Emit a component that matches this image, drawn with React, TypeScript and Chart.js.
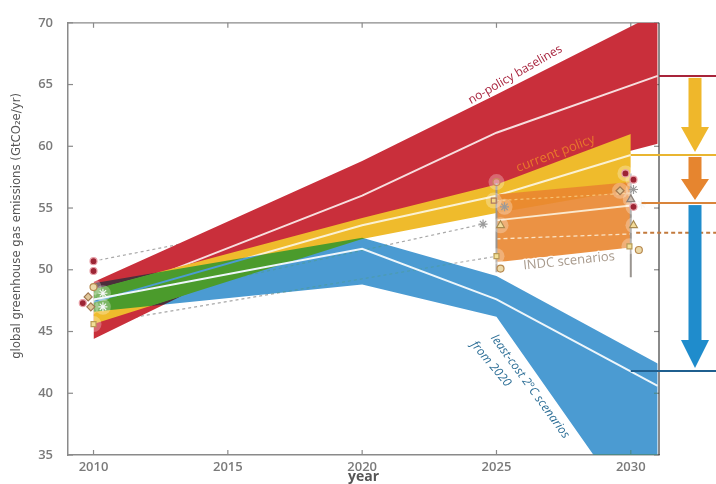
import React, { useEffect, useRef } from 'react';
import { Chart, registerables } from 'chart.js';

Chart.register(...registerables);

// ---------------- data ----------------
const xTickYears = [2010, 2015, 2020, 2025, 2030];
const yTickValues = [35, 40, 45, 50, 55, 60, 65, 70];

const baselineYears = [2010, 2020, 2025, 2031];
const baselineHigh = [49.0, 58.8, 64.2, 70.8];
const baselineMedian = [47.5, 56.0, 61.1, 65.7];
const baselineLowYears = [2010, 2013.3, 2020, 2025, 2031];
const baselineLow = [44.4, 47.9, 53.2, 56.8, 60.2];

const policyYears = [2010, 2020, 2025, 2030];
const policyHigh = [48.4, 54.2, 56.9, 61.0];
const policyMedian = [47.4, 53.6, 56.0, 59.3];
const policyLow = [45.6, 52.5, 54.6, 56.5];

const leastCostYears = [2010, 2020, 2025, 2031];
const leastCostHigh = [48.9, 52.6, 49.5, 42.4];
const leastCostMedian = [47.6, 51.7, 47.6, 40.6];
const leastCostLow = [46.6, 48.8, 46.2, 27.6];

const indcYears = [2025, 2030];
const indcHigh = [56.1, 57.1];
const indcUpperDashed = [55.6, 56.2];
const indcMedian = [54.0, 55.2];
const indcLowerDashed = [52.5, 52.9];
const indcLow = [50.6, 51.8];
const indcRangeHigh = [57.0, 57.8];
const indcRangeLow = [49.8, 49.4];

const guideStartYears = [2010, 2010, 2010.35];
const guideStartValues = [50.7, 45.6, 47.0];
const guideEndYears = [2025, 2025, 2024.5];
const guideEndValues = [57.1, 51.1, 53.7];

const markerYears = [
  2010, 2010, 2010, 2009.8, 2010.35, 2009.6, 2009.9, 2010.35, 2010,
  2025, 2024.9, 2025.3, 2024.5, 2025.15, 2025, 2025.15,
  2029.8, 2030.1, 2029.6, 2030.1, 2030.0, 2030.1, 2030.4, 2030.1, 2029.95, 2030.3,
];
const markerValues = [
  50.7, 49.9, 48.6, 47.8, 48.1, 47.3, 47.0, 47.0, 45.6,
  57.1, 55.6, 55.1, 53.7, 53.6, 51.1, 50.1,
  57.8, 57.3, 56.4, 56.5, 55.7, 55.1, 55.3, 53.6, 51.9, 51.6,
];
const markerKinds = [
  'red', 'red', 'tan', 'diamond', 'star', 'red', 'diamond', 'star', 'square',
  'ring', 'ringSquare', 'grayStar', 'grayStar', 'tri', 'square', 'tan',
  'red', 'red', 'diamond', 'grayStar', 'grayTri', 'red', 'star', 'tri', 'square', 'tan',
];

const gapLevels = [65.7, 59.3, 55.4, 41.8];
const indcDashedLevel = 53.0;

// ---------------- styling ----------------
const kindStyle: Record<string, { s: string; bg: string; bd: string; r: number }> = {
  red: { s: 'circle', bg: '#9c2434', bd: '#e8a0a8', r: 3.5 },
  tan: { s: 'circle', bg: '#ecd9a8', bd: '#b88a50', r: 3.5 },
  ring: { s: 'circle', bg: 'rgba(255,255,255,0.3)', bd: '#c98a5a', r: 3.5 },
  diamond: { s: 'rectRot', bg: '#e0c79a', bd: '#a07850', r: 4 },
  star: { s: 'star', bg: '#ffffff', bd: '#f6f6f6', r: 4.5 },
  grayStar: { s: 'star', bg: '#999999', bd: '#9a9a9a', r: 4.5 },
  square: { s: 'rect', bg: '#f1df96', bd: '#b89a55', r: 3.5 },
  ringSquare: { s: 'rect', bg: 'rgba(255,255,255,0.2)', bd: '#b07a60', r: 3.5 },
  tri: { s: 'triangle', bg: '#f3dc9a', bd: '#a88a50', r: 4.5 },
  grayTri: { s: 'triangle', bg: '#c8bcb0', bd: '#8d8078', r: 4.5 },
};

const pts = (xs: number[], ys: number[]) => xs.map((x, i) => ({ x, y: ys[i] }));

function drawText(
  ctx: CanvasRenderingContext2D, text: string, px: number, py: number, angle: number,
  font: string, color: string, align: CanvasTextAlign = 'center', halo?: string,
) {
  ctx.save();
  ctx.translate(px, py);
  ctx.rotate((angle * Math.PI) / 180);
  ctx.font = font;
  ctx.textAlign = align;
  ctx.textBaseline = 'middle';
  if (halo) {
    ctx.strokeStyle = halo;
    ctx.lineWidth = 3;
    ctx.lineJoin = 'round';
    ctx.strokeText(text, 0, 0);
  }
  ctx.fillStyle = color;
  ctx.fillText(text, 0, 0);
  ctx.restore();
}

export default function App() {
  const ref = useRef<HTMLCanvasElement | null>(null);

  useEffect(() => {
    document.body.style.margin = '0';
    const canvas = ref.current;
    if (!canvas) return;

    const ds: any[] = [];
    const add = (d: any) => {
      ds.push({ pointRadius: 0, pointHoverRadius: 0, tension: 0, fill: false, borderWidth: 0, borderColor: 'rgba(0,0,0,0)', ...d });
      return ds.length - 1;
    };

    // grey dashed guide lines (bottom)
    guideStartYears.forEach((sx, i) => {
      add({
        data: [{ x: sx, y: guideStartValues[i] }, { x: guideEndYears[i], y: guideEndValues[i] }],
        borderColor: '#a8a8a8', borderWidth: 1.2, borderDash: [3, 3], order: 120,
      });
    });

    // no-policy baselines
    const blLow = add({ data: pts(baselineLowYears, baselineLow), order: 100 });
    add({ data: pts(baselineYears, baselineHigh), fill: { target: blLow }, backgroundColor: '#c92f3b', order: 99 });
    add({ data: pts(baselineYears, baselineMedian), borderColor: '#f7dede', borderWidth: 2, order: 98 });

    // current policy
    const cpLow = add({ data: pts(policyYears, policyLow), order: 90 });
    add({ data: pts(policyYears, policyHigh), fill: { target: cpLow }, backgroundColor: '#efbb2c', order: 89 });
    add({ data: pts(policyYears, policyMedian), borderColor: '#fbf1d2', borderWidth: 2, order: 88 });

    // least-cost 2C
    const lcLow = add({ data: pts(leastCostYears, leastCostLow), order: 80 });
    const lcHigh = add({ data: pts(leastCostYears, leastCostHigh), fill: { target: lcLow }, backgroundColor: '#4b9bd2', order: 79 });
    add({ data: pts(leastCostYears, leastCostMedian), borderColor: '#eef6fb', borderWidth: 2, order: 78 });

    // INDC
    const inLow = add({ data: pts(indcYears, indcLow), order: 60 });
    add({ data: pts(indcYears, indcHigh), fill: { target: inLow }, backgroundColor: 'rgba(233,134,48,0.9)', order: 59 });
    add({ data: pts(indcYears, indcMedian), borderColor: '#fbe9cf', borderWidth: 2, order: 58 });
    add({ data: pts(indcYears, indcLowerDashed), borderColor: '#fbe3c4', borderWidth: 1.3, borderDash: [4, 3], order: 57 });
    add({ data: pts(indcYears, indcUpperDashed), borderColor: 'rgba(250,205,130,0.8)', borderWidth: 1.2, borderDash: [3, 3], order: 57 });

    // grey ranges
    indcYears.forEach((yr, i) => {
      add({
        data: [{ x: yr, y: indcRangeLow[i] }, { x: yr, y: indcRangeHigh[i] }],
        borderColor: '#9a9590', borderWidth: 2, order: 50,
      });
    });

    // halos
    const markerPts = pts(markerYears, markerValues);
    add({
      data: markerPts, showLine: false, pointRadius: 8, pointBorderWidth: 0,
      pointBackgroundColor: 'rgba(255,255,255,0.28)', order: 45,
    });

    // markers
    add({
      data: markerPts, showLine: false,
      pointStyle: markerKinds.map((k) => kindStyle[k].s),
      pointRadius: markerKinds.map((k) => kindStyle[k].r),
      pointBackgroundColor: markerKinds.map((k) => kindStyle[k].bg),
      pointBorderColor: markerKinds.map((k) => kindStyle[k].bd),
      pointBorderWidth: 1.2,
      order: 0,
    });

    const decor = {
      id: 'decor',
      beforeDatasetsDraw(chart: any) {
        const { ctx, chartArea: a, scales } = chart;
        const x = scales.x, y = scales.y;
        ctx.save();
        ctx.strokeStyle = '#8a8a8a';
        ctx.lineWidth = 1.2;
        const ln = (x1: number, y1: number, x2: number, y2: number) => {
          ctx.beginPath(); ctx.moveTo(x1, y1); ctx.lineTo(x2, y2); ctx.stroke();
        };
        ln(a.left, a.top, a.right, a.top);
        yTickValues.forEach((v) => {
          const py = y.getPixelForValue(v);
          ln(a.left, py, a.left + 5, py);
          ln(a.right - 5, py, a.right, py);
        });
        xTickYears.forEach((v) => {
          const px = x.getPixelForValue(v);
          ln(px, a.bottom, px, a.bottom - 5);
          ln(px, a.top, px, a.top + 5);
        });
        ctx.restore();
      },
      afterDatasetDraw(chart: any, args: any) {
        if (args.index === lcLow) chart.ctx.globalCompositeOperation = 'darken';
        if (args.index === lcHigh) chart.ctx.globalCompositeOperation = 'source-over';
      },
      afterDraw(chart: any) {
        const { ctx, chartArea: a, scales, width } = chart;
        const x = scales.x, y = scales.y;
        ctx.save();
        ctx.globalCompositeOperation = 'source-over';

        // right border
        ctx.strokeStyle = '#3c3c3c';
        ctx.lineWidth = 1.2;
        ctx.beginPath(); ctx.moveTo(a.right, a.top); ctx.lineTo(a.right, a.bottom); ctx.stroke();

        // horizontal level lines
        const hline = (x1: number, v: number, color: string, w: number, dash: number[] = []) => {
          ctx.save();
          ctx.strokeStyle = color; ctx.lineWidth = w; ctx.setLineDash(dash);
          const py = y.getPixelForValue(v);
          ctx.beginPath(); ctx.moveTo(x1, py); ctx.lineTo(width, py); ctx.stroke();
          ctx.restore();
        };
        hline(a.right, gapLevels[0], '#a8243a', 2);
        hline(x.getPixelForValue(2030), gapLevels[1], '#e9b530', 2);
        hline(x.getPixelForValue(2030.4), gapLevels[2], '#d9843a', 2);
        hline(x.getPixelForValue(2030.2), indcDashedLevel, '#c27a3c', 2, [4, 3]);
        hline(x.getPixelForValue(2030), gapLevels[3], '#1f5f8f', 2);

        // arrows
        const cx = a.right + 36;
        const arrow = (v1: number, v2: number, color: string, head: number) => {
          const y1 = y.getPixelForValue(v1) + 2;
          const tip = y.getPixelForValue(v2) - 3;
          const hs = tip - head;
          ctx.fillStyle = color;
          ctx.fillRect(cx - 6.5, y1, 13, hs - y1 + 1);
          ctx.beginPath();
          ctx.moveTo(cx - 14, hs);
          ctx.lineTo(cx + 14, hs);
          ctx.lineTo(cx, tip);
          ctx.closePath();
          ctx.fill();
        };
        arrow(gapLevels[0], gapLevels[1], '#efb72b', 25);
        arrow(gapLevels[1], gapLevels[2], '#e6852f', 21);
        arrow(gapLevels[2], gapLevels[3], '#1f8ccc', 28);

        // labels
        const sans = '"Open Sans", "DejaVu Sans", sans-serif';
        drawText(ctx, 'no-policy baselines', x.getPixelForValue(2025.7), y.getPixelForValue(65.8), -30, `12px ${sans}`, '#a8243e');
        drawText(ctx, 'current policy', x.getPixelForValue(2027.2), y.getPixelForValue(59.4), -21, `13px ${sans}`, '#e8782c');
        drawText(ctx, 'INDC scenarios', x.getPixelForValue(2027.7), y.getPixelForValue(50.7), -6, `13px ${sans}`, '#a89a8c', 'center', 'rgba(255,255,255,0.85)');
        drawText(ctx, 'least-cost 2°C scenarios', x.getPixelForValue(2024.88), y.getPixelForValue(44.64), 54, `italic 12px ${sans}`, '#2c6e96', 'left');
        drawText(ctx, 'from 2020', x.getPixelForValue(2024.13), y.getPixelForValue(44.09), 50, `italic 12px ${sans}`, '#2c6e96', 'left');

        // y title
        drawText(ctx, 'global greenhouse gas emissions (GtCO₂e/yr)', 17, (a.top + a.bottom) / 2 - 13, -90,
          '13px "Liberation Sans Narrow", "DejaVu Sans Condensed", sans-serif', '#555555');
        ctx.restore();
      },
    };

    const tickFont = { family: '"Open Sans", "DejaVu Sans", sans-serif', size: 13, weight: '600' as any };

    const chart = new Chart(canvas, {
      type: 'line',
      data: { datasets: ds },
      options: {
        responsive: false,
        animation: false,
        devicePixelRatio: 1,
        events: [],
        layout: { padding: { top: 12, right: 57, bottom: 0, left: 0 } },
        plugins: { legend: { display: false }, tooltip: { enabled: false } },
        scales: {
          x: {
            type: 'linear', min: 2009.05, max: 2031.05,
            afterBuildTicks: (s: any) => { s.ticks = xTickYears.map((v) => ({ value: v })); },
            afterFit: (s: any) => { s.height = 29; },
            grid: { display: false, drawTicks: false },
            border: { display: true, color: '#8a8a8a', width: 1.5 },
            ticks: { padding: 4, color: '#7a7a7a', font: tickFont, callback: (v: any) => String(v) },
            title: {
              display: true, text: 'year', color: '#555555', padding: 0,
              font: { family: '"Open Sans", "DejaVu Sans", sans-serif', size: 14, weight: 'bold' as any, lineHeight: 1 },
            },
          },
          y: {
            type: 'linear', min: 35, max: 70,
            afterBuildTicks: (s: any) => { s.ticks = yTickValues.map((v) => ({ value: v })); },
            afterFit: (s: any) => { s.width = 68; },
            grid: { display: false, drawTicks: false },
            border: { display: true, color: '#8a8a8a', width: 1.5 },
            ticks: { padding: 15, color: '#7a7a7a', font: tickFont, callback: (v: any) => String(v) },
          },
        },
      },
      plugins: [decor],
    });

    return () => chart.destroy();
  }, []);

  return (
    <canvas ref={ref} width={716} height={484} style={{ display: 'block', width: 716, height: 484 }} />
  );
}
